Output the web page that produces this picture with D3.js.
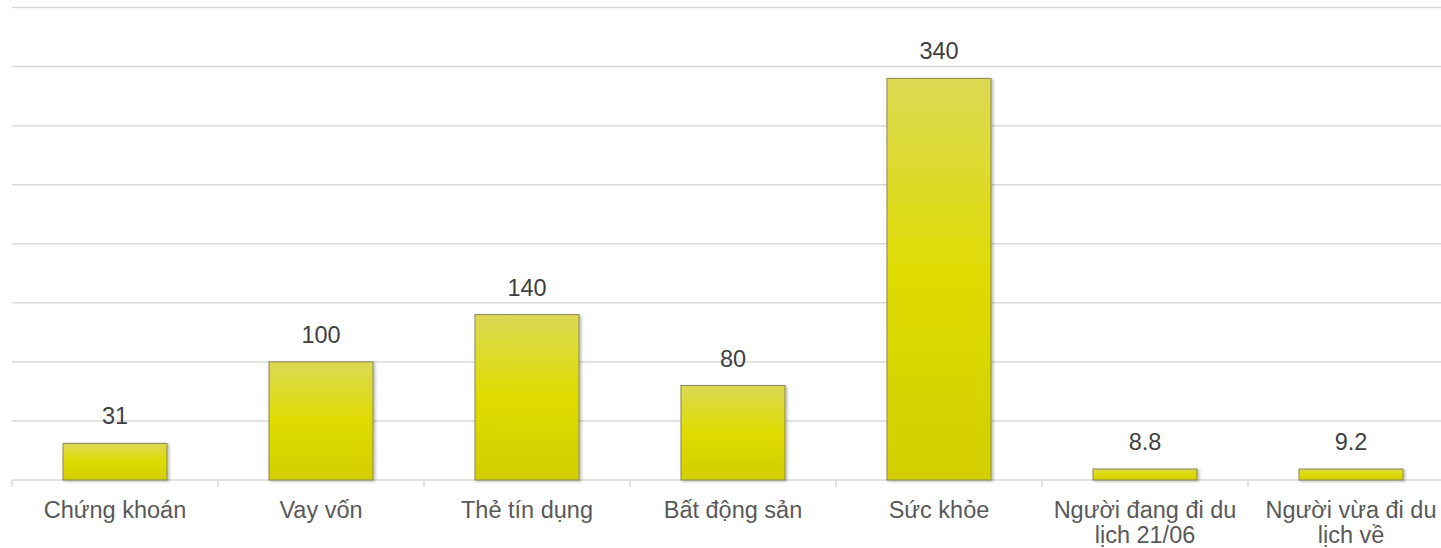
<!DOCTYPE html>
<html>
<head>
<meta charset="utf-8">
<script src="https://cdn.jsdelivr.net/npm/d3@7"></script>
<style>
  body { margin: 0; background: #fff; }
  svg { display: block; font-family: "Liberation Sans", Arial, sans-serif; }
</style>
</head>
<body>
<div id="chart"></div>
<script>
// data
var categories = ["Chứng khoán", "Vay vốn", "Thẻ tín dụng", "Bất động sản", "Sức khỏe", "Người đang đi du lịch 21/06", "Người vừa đi du lịch về"];
var values = [31, 100, 140, 80, 340, 8.8, 9.2];
var valueLabels = ["31", "100", "140", "80", "340", "8.8", "9.2"];
var yTicks = [0, 50, 100, 150, 200, 250, 300, 350, 400];

var w = 1441, h = 548;
var margin = {top: 7.5, left: 12, bottom: 68},
    step = 206,
    height = h - margin.top - margin.bottom;

var svg = d3.select("#chart").append("svg")
    .attr("width", w)
    .attr("height", h);

var defs = svg.append("defs");
var grad = defs.append("linearGradient")
    .attr("id", "barGrad")
    .attr("x1", 0).attr("y1", 0).attr("x2", 0).attr("y2", 1);
grad.append("stop").attr("offset", "0%").attr("stop-color", "#dcd955");
grad.append("stop").attr("offset", "50%").attr("stop-color", "#dfdb00");
grad.append("stop").attr("offset", "100%").attr("stop-color", "#d2ce00");

var shadow = defs.append("filter").attr("id", "shadow")
    .attr("x", "-10%").attr("y", "-10%").attr("width", "130%").attr("height", "130%");
shadow.append("feDropShadow")
    .attr("dx", 1.5).attr("dy", 1).attr("stdDeviation", 1.5)
    .attr("flood-color", "#000").attr("flood-opacity", 0.3);

var x = d3.scaleBand()
    .domain(categories)
    .range([margin.left, margin.left + step * categories.length])
    .paddingInner(0.495)
    .paddingOuter(0.2475);

var y = d3.scaleLinear()
    .domain([0, 400])
    .range([margin.top + height, margin.top]);

// gridlines
svg.append("g")
  .selectAll("line")
  .data(yTicks.slice(1))
  .enter().append("line")
    .attr("x1", margin.left)
    .attr("x2", w)
    .attr("y1", function(d) { return y(d); })
    .attr("y2", function(d) { return y(d); })
    .attr("stroke", "#d9d9d9")
    .attr("stroke-width", 1.5);

// x axis line + ticks at band edges
var axisY = y(0);
svg.append("line")
    .attr("x1", margin.left).attr("x2", w)
    .attr("y1", axisY).attr("y2", axisY)
    .attr("stroke", "#d9d9d9")
    .attr("stroke-width", 1.5);

svg.append("g")
  .selectAll("line")
  .data(d3.range(categories.length + 1))
  .enter().append("line")
    .attr("x1", function(i) { return margin.left + i * step; })
    .attr("x2", function(i) { return margin.left + i * step; })
    .attr("y1", axisY)
    .attr("y2", axisY + 7)
    .attr("stroke", "#d9d9d9")
    .attr("stroke-width", 1.5);

// bars
svg.append("g")
  .selectAll("rect")
  .data(values)
  .enter().append("rect")
    .attr("x", function(d, i) { return x(categories[i]); })
    .attr("width", x.bandwidth())
    .attr("y", function(d) { return Math.min(y(d), axisY - 11); })
    .attr("height", function(d) { return Math.max(axisY - y(d), 11); })
    .attr("fill", "url(#barGrad)")
    .attr("stroke", "#8c8a55")
    .attr("stroke-width", 1)
    .attr("filter", "url(#shadow)");

// value labels
svg.append("g")
  .selectAll("text")
  .data(values)
  .enter().append("text")
    .attr("x", function(d, i) { return x(categories[i]) + x.bandwidth() / 2; })
    .attr("y", function(d) { return Math.min(y(d), axisY - 11) - 19; })
    .attr("text-anchor", "middle")
    .attr("font-size", "23.5px")
    .attr("fill", "#404040")
    .text(function(d, i) { return valueLabels[i]; });

// category labels (wrapped)
var catText = svg.append("g")
  .selectAll("text")
  .data(categories)
  .enter().append("text")
    .attr("x", function(d) { return x(d) + x.bandwidth() / 2; })
    .attr("y", 518)
    .attr("text-anchor", "middle")
    .attr("font-size", "23.5px")
    .attr("fill", "#595959")
    .text(function(d) { return d; });

catText.each(function(d) {
  var text = d3.select(this),
      words = d.split(" "),
      cx = text.attr("x"),
      line = [],
      tspan = text.text(null).append("tspan").attr("x", cx);
  words.forEach(function(word) {
    line.push(word);
    tspan.text(line.join(" "));
    if (tspan.node().getComputedTextLength() > 196 && line.length > 1) {
      line.pop();
      tspan.text(line.join(" "));
      line = [word];
      tspan = text.append("tspan").attr("x", cx).attr("dy", "25px").text(word);
    }
  });
});
</script>
</body>
</html>
